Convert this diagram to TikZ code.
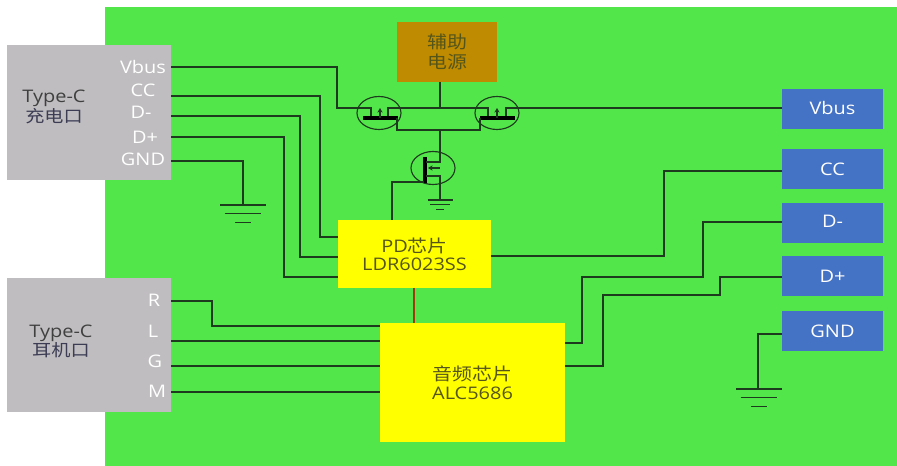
\documentclass[tikz,border=0pt]{standalone}
\usepackage{fontspec}
\setmainfont[FakeStretch=1.15]{Open Sans}
\newfontfamily\cjk[FakeStretch=1.15]{Noto Sans CJK SC}
\usetikzlibrary{arrows.meta}
\definecolor{Board}{HTML}{53E64B}
\definecolor{Plug}{HTML}{BFBDBF}
\definecolor{Port}{HTML}{4472C4}
\definecolor{Chip}{HTML}{FFFF00}
\definecolor{Aux}{HTML}{BF8B00}
\definecolor{Wire}{HTML}{1E3A1E}
\definecolor{Link}{HTML}{A03A10}
\definecolor{ChipText}{HTML}{55551A}
\definecolor{PlugText}{HTML}{3C3C55}
\tikzset{
  block/.style={minimum width=#1, inner sep=0pt, outer sep=0pt},
  pinlabel/.style={text=white, font=\fontsize{13}{15}\selectfont, inner sep=0pt},
  wire/.style={draw=Wire, line width=0.85pt},
  fetring/.style={draw=Wire, line width=0.85pt},
  fetbar/.style={draw=black, line width=2.4pt},
}
\begin{document}
\begin{tikzpicture}[x=0.75pt, y=-0.75pt, >=Stealth]
  \useasboundingbox (0,0) rectangle (897,466);
  \fill[white] (0,0) rectangle (897,466);
  \fill[Board] (105,7) rectangle (897,466);
  % connectors on the left
  \node[block=123pt, minimum height=101.25pt, fill=Plug] (chargeport) at (89,112.5) {};
  \node[block=123pt, minimum height=100.5pt, fill=Plug] (audioport) at (89,345) {};
  \node[font=\fontsize{13}{15}\selectfont, text=black!75, inner sep=0pt] (chargetype) at (54,98) {Type-C};
  \node[font=\fontsize{12.5}{15}\selectfont\cjk, text=PlugText, inner sep=0pt] (chargename) at (54,116) {充电口};
  \node[font=\fontsize{13}{15}\selectfont, text=black!75, inner sep=0pt] (audiotype) at (61,333) {Type-C};
  \node[font=\fontsize{12.5}{15}\selectfont\cjk, text=PlugText, inner sep=0pt] (audioname) at (61,350) {耳机口};
  \node[pinlabel] (lbus) at (143,67) {Vbus};
  \node[pinlabel] (lcc) at (143,90) {CC};
  \node[pinlabel] (ldm) at (141,112) {D-};
  \node[pinlabel] (ldp) at (145,137) {D+};
  \node[pinlabel] (lgnd) at (143,159) {GND};
  \node[pinlabel] (lr) at (154,300) {R};
  \node[pinlabel] (ll) at (153,331) {L};
  \node[pinlabel] (lg) at (155,361) {G};
  \node[pinlabel] (lm) at (157,391) {M};
  % chips
  \node[block=75pt, minimum height=45pt, fill=Aux, text=ChipText, align=center, font=\fontsize{13}{15}\selectfont\cjk] (aux) at (447,52) {辅助\\电源};
  \node[block=114.75pt, minimum height=51pt, fill=Chip, text=ChipText, align=center, font=\fontsize{13}{13.5}\selectfont] (pd) at (414.5,254) {PD{\cjk 芯片}\\LDR6023SS};
  \node[block=138.75pt, minimum height=89.25pt, fill=Chip, text=ChipText, align=center, font=\fontsize{13}{14}\selectfont] (audio) at (472.5,382.5) {{\cjk 音频芯片}\\ALC5686};
  % ports on the right
  \node[block=75.75pt, minimum height=30pt, fill=Port, pinlabel] (rbus) at (832.5,109) {\raisebox{1.5pt}{Vbus}};
  \node[block=75.75pt, minimum height=30pt, fill=Port, pinlabel] (rcc) at (832.5,169) {CC};
  \node[block=75.75pt, minimum height=30pt, fill=Port, pinlabel] (rdm) at (832.5,223) {\raisebox{2pt}{D-}};
  \node[block=75.75pt, minimum height=30pt, fill=Port, pinlabel] (rdp) at (832.5,276.5) {D+};
  \node[block=75.75pt, minimum height=30pt, fill=Port, pinlabel] (rgnd) at (832.5,331) {GND};
  % pins
  \coordinate (pbus) at (171,67);
  \coordinate (pcc) at (171,96);
  \coordinate (pdm) at (171,116);
  \coordinate (pdp) at (171,137);
  \coordinate (pgnd) at (171,161);
  \coordinate (pr) at (171,301);
  \coordinate (pl) at (171,341);
  \coordinate (pg) at (171,366);
  \coordinate (pm) at (171,392);
  % wires
  \draw[wire] (pbus) -- (337,67) -- (337,108) -- (371,108) -- (371,118);
  \draw[wire] (388,118) -- (388,108) -- (488,108) -- (488,118);
  \draw[wire] (506,118) -- (506,108) -- (rbus.west |- 0,108);
  \draw[wire] (aux.south -| 440,0) -- (440,108);
  \draw[wire] (pcc) -- (320,96) -- (320,237) -- (pd.west |- 0,237);
  \draw[wire] (pdm) -- (300,116) -- (300,257) -- (pd.west |- 0,257);
  \draw[wire] (pdp) -- (284,137) -- (284,277) -- (pd.west |- 0,277);
  \draw[wire] (pgnd) -- (243,161) -- (243,205);
  \draw[wire] (pr) -- (212,301) -- (212,326) -- (audio.west |- 0,326);
  \draw[wire] (pl) -- (audio.west |- 0,341);
  \draw[wire] (pg) -- (audio.west |- 0,366);
  \draw[wire] (pm) -- (audio.west |- 0,392);
  \draw[wire] (pd.east |- 0,256) -- (664,256) -- (664,171) -- (rcc.west |- 0,171);
  \draw[wire] (audio.east |- 0,343) -- (582,343) -- (582,277) -- (703,277) -- (703,222) -- (rdm.west |- 0,222);
  \draw[wire] (audio.east |- 0,366) -- (603,366) -- (603,295) -- (720,295) -- (720,277) -- (rdp.west |- 0,277);
  \draw[wire] (rgnd.west |- 0,334) -- (758,334) -- (758,389);
  \draw[draw=Link, line width=0.9pt] (pd.south -| 414,0) -- (audio.north -| 414,0);
  % switches
  \draw[fetring] (379,113) ellipse [x radius=22, y radius=16.5];
  \draw[fetring] (497,113) ellipse [x radius=22, y radius=16.5];
  \draw[fetring] (433,168) ellipse [x radius=22, y radius=16.5];
  \draw[fetbar] (363,118) -- (398,118);
  \draw[fetbar] (480,118) -- (515,118);
  \draw[fetbar] (425,157) -- (425,183);
  \draw[wire, ->, >={Stealth[length=3.5pt,width=4pt]}] (380,118) -- (380,108);
  \draw[wire, ->, >={Stealth[length=3.5pt,width=4pt]}] (497,118) -- (497,108);
  \draw[wire] (397,118) -- (397,130) -- (480,130) -- (480,118);
  \draw[wire] (440,130) -- (440,162) -- (426,162);
  \draw[wire, <-, >={Stealth[length=3.5pt,width=4pt]}] (428,168) -- (440,168);
  \draw[wire] (426,176) -- (440,176) -- (440,200);
  \draw[wire] (pd.north -| 392,0) -- (392,182) -- (424,182);
  % earth symbols
  \foreach \gx/\gy/\gw in {243/205/23, 440/200/12.5, 759/389/23} {
    \draw[wire] (\gx-\gw,\gy) -- (\gx+\gw,\gy);
    \draw[wire] (\gx-0.8*\gw,\gy+0.38*\gw) -- (\gx+0.8*\gw,\gy+0.38*\gw);
    \draw[wire] (\gx-0.33*\gw,\gy+0.76*\gw) -- (\gx+0.33*\gw,\gy+0.76*\gw);
  }
\end{tikzpicture}
\end{document}
